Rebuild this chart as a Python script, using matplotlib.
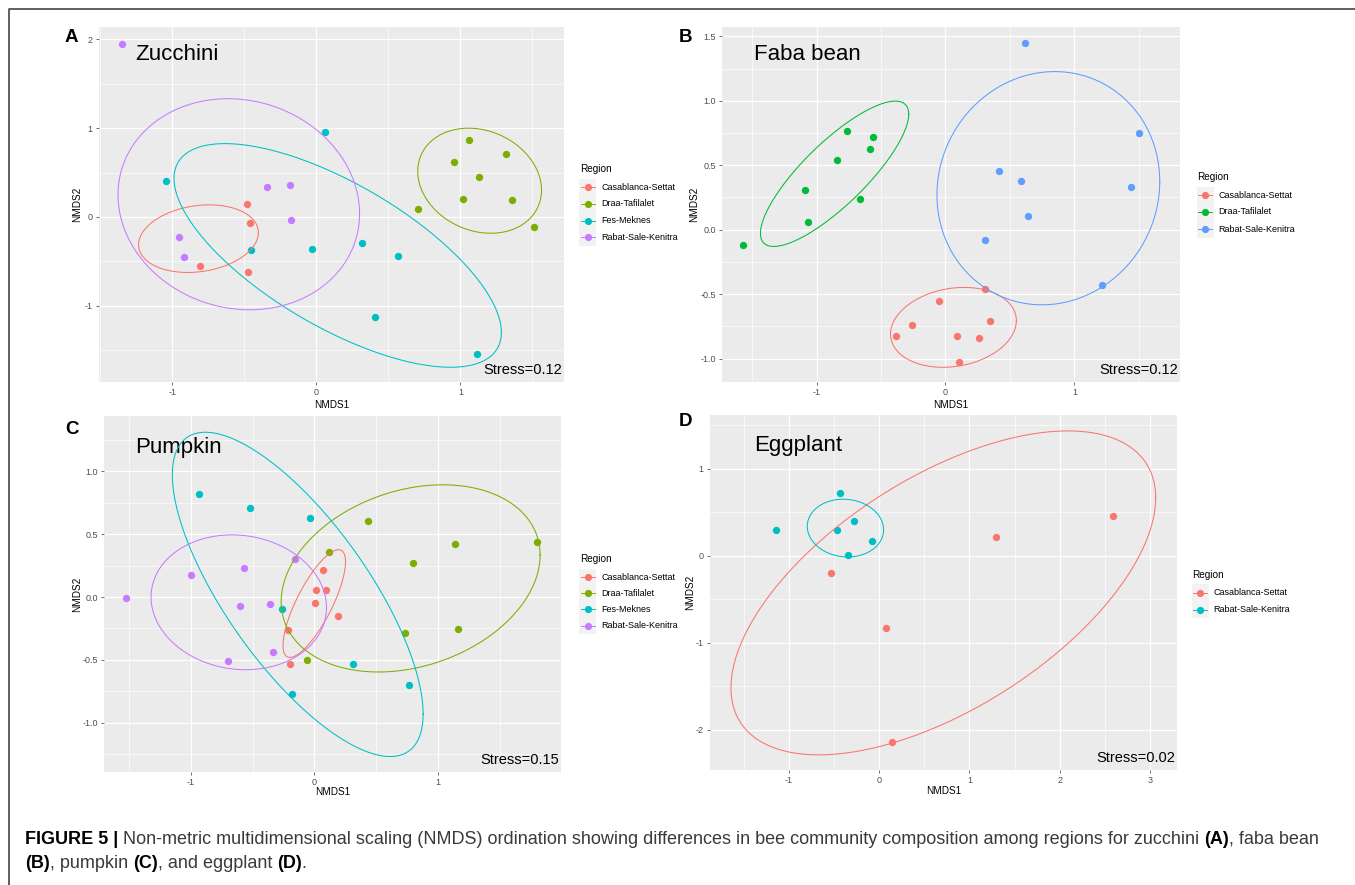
import numpy as np
import matplotlib
matplotlib.use('Agg')
import matplotlib.pyplot as plt
from matplotlib.lines import Line2D
from matplotlib.patches import Rectangle

plt.rcParams['font.family'] = ['Liberation Sans', 'DejaVu Sans']
plt.rcParams['axes.unicode_minus'] = False

FW, FH = 1355, 885

# ---- values ----
reg4 = ['Casablanca-Settat', 'Draa-Tafilalet', 'Fes-Meknes', 'Rabat-Sale-Kenitra']
col4 = ['#F8766D', '#7CAE00', '#00BFC4', '#C77CFF']
reg3 = ['Casablanca-Settat', 'Draa-Tafilalet', 'Rabat-Sale-Kenitra']
col3 = ['#F8766D', '#00BA38', '#619CFF']
reg2 = ['Casablanca-Settat', 'Rabat-Sale-Kenitra']
col2 = ['#F8766D', '#00BFC4']

# zucchini (A)
zuc_x = [[-0.481, -0.462, -0.811, -0.476],
         [1.062, 0.959, 1.315, 1.130, 1.015, 1.362, 0.703, 1.515],
         [-1.043, 0.059, -0.453, -0.028, 0.317, 0.565, 0.406, 1.118],
         [-1.35, -0.957, -0.917, -0.342, -0.183, -0.174]]
zuc_y = [[0.140, -0.072, -0.551, -0.626],
         [0.864, 0.619, 0.709, 0.449, 0.200, 0.189, 0.091, -0.113],
         [0.400, 0.962, -0.374, -0.366, -0.298, -0.438, -1.128, -1.543],
         [1.95, -0.226, -0.453, 0.336, 0.355, -0.030]]
# ellipse: centre x, centre y, half width, half height, y offset at rightmost point
zuc_ell = [(-0.819, -0.245, 0.416, 0.381, 0.068),
           (1.134, 0.408, 0.430, 0.592, -0.106),
           (0.148, -0.434, 1.137, 1.260, -0.868),
           (-0.539, 0.143, 0.839, 1.189, -0.106)]

# faba bean (B)
fab_x = [[0.304, -0.047, -0.259, -0.387, 0.092, 0.257, 0.348, 0.102],
         [-1.571, -1.086, -1.063, -0.840, -0.767, -0.586, -0.560, -0.660],
         [0.620, 1.503, 0.414, 0.589, 1.437, 0.639, 0.309, 1.212]]
fab_y = [[-0.464, -0.555, -0.740, -0.823, -0.823, -0.839, -0.711, -1.026],
         [-0.117, 0.305, 0.057, 0.542, 0.766, 0.625, 0.721, 0.242],
         [1.448, 0.750, 0.458, 0.380, 0.328, 0.109, -0.081, -0.427]]
fab_ell = [(0.062, -0.758, 0.488, 0.310, 0.052),
           (-0.860, 0.434, 0.575, 0.564, 0.462),
           (0.798, 0.322, 0.864, 0.905, 0.052)]

# pumpkin (C)
pum_x = [[0.068, 0.014, 0.096, 0.003, 0.194, -0.211, -0.200],
         [0.432, 0.123, 1.141, 1.806, 0.796, 0.731, 1.163, -0.057],
         [-0.930, -0.517, -0.038, -0.260, 0.315, 0.769, -0.183],
         [-1.527, -1.001, -0.572, -0.602, -0.358, -0.159, -0.334, -0.698]]
pum_y = [[0.217, 0.056, 0.056, -0.048, -0.148, -0.263, -0.532],
         [0.601, 0.354, 0.424, 0.438, 0.268, -0.290, -0.258, -0.502],
         [0.816, 0.706, 0.626, -0.094, -0.532, -0.701, -0.770],
         [-0.008, 0.172, 0.234, -0.075, -0.059, 0.303, -0.435, -0.510]]
pum_ell = [(0.0, -0.052, 0.253, 0.428, 0.332),
           (0.780, 0.148, 1.048, 0.744, 0.185),
           (-0.134, 0.021, 1.015, 1.289, -0.950),
           (-0.611, -0.042, 0.710, 0.536, -0.042)]

# eggplant (D)
egg_x = [[-0.536, 2.588, 1.296, 0.071, 0.146],
         [-0.431, -1.142, -0.468, -0.281, -0.086, -0.345]]
egg_y = [[-0.198, 0.451, 0.210, -0.832, -2.145],
         [0.715, 0.291, 0.299, 0.393, 0.167, 0.008]]
egg_ell = [(0.710, -0.428, 2.354, 1.862, 1.092),
           (-0.375, 0.317, 0.423, 0.332, -0.020)]

fig = plt.figure(figsize=(FW / 100, FH / 100), dpi=100)


def fx(x):
    return x / FW


def fy(y):
    return 1 - y / FH


def panel(box, xs, ys, ells, cols, xlim, ylim, xmaj, xmin, ymaj, ymin, ylabs,
          name, name_pos, stress, letter, letter_pos, xlab_y, ylab_x):
    l, t, r, b = box
    ax = fig.add_axes([fx(l), fy(b), (r - l) / FW, (b - t) / FH])
    ax.set_facecolor('#EBEBEB')
    for s in ax.spines.values():
        s.set_visible(False)
    ax.set_xlim(xlim)
    ax.set_ylim(ylim)
    ax.set_xticks(xmaj)
    ax.set_xticks(xmin, minor=True)
    ax.set_yticks(ymaj)
    ax.set_yticks(ymin, minor=True)
    ax.set_yticklabels(ylabs)
    ax.grid(which='major', color='white', lw=0.9)
    ax.grid(which='minor', color='white', lw=0.45)
    ax.set_axisbelow(True)
    ax.tick_params(which='major', length=2.5, width=0.5, color='#333333',
                   labelsize=6.5, labelcolor='#4D4D4D', pad=2)
    ax.tick_params(which='minor', length=0)
    for x, y, c in zip(xs, ys, cols):
        ax.scatter(x, y, s=28, color=c, zorder=3, linewidths=0)
    tt = np.linspace(0, 2 * np.pi, 300)
    for (cx, cy, w, h, d), c in zip(ells, cols):
        ax.plot(cx + w * np.cos(tt),
                cy + d * np.cos(tt) + np.sqrt(h * h - d * d) * np.sin(tt),
                color=c, lw=0.75, zorder=4)
    ax.text(name_pos[0], name_pos[1], name, transform=ax.transAxes,
            fontsize=16, ha='left', va='baseline')
    ax.text(0.996, 0.013, stress, transform=ax.transAxes, fontsize=10.5,
            ha='right', va='bottom')
    ax.set_xlabel('NMDS1', fontsize=7.2, va='center')
    ax.set_ylabel('NMDS2', fontsize=7.2, va='center')
    ax.xaxis.set_label_coords(0.5, xlab_y)
    ax.yaxis.set_label_coords(ylab_x, 0.5)
    fig.text(fx(letter_pos[0]), fy(letter_pos[1]), letter, fontsize=13.5,
             fontweight='bold', ha='left', va='center')
    return ax


def legend(x_key, y_title, regs, cols, step=16.8):
    fig.text(fx(x_key - 7.5), fy(y_title), 'Region', fontsize=7.2,
             ha='left', va='center')
    rows = [y_title + 17.5 + i * step for i in range(len(regs))]
    fig.add_artist(Rectangle((fx(x_key - 8.5), fy(rows[-1] + step / 2)),
                             17 / FW, (rows[-1] - rows[0] + step) / FH,
                             transform=fig.transFigure, color='#F2F2F2', lw=0))
    for y, lab, c in zip(rows, regs, cols):
        fig.add_artist(Line2D([fx(x_key - 7), fx(x_key + 7)], [fy(y), fy(y)],
                              transform=fig.transFigure, color=c, lw=0.7))
        fig.add_artist(Line2D([fx(x_key)], [fy(y)], transform=fig.transFigure,
                              marker='o', ms=5.2, color=c, mew=0, ls='none'))
        fig.text(fx(x_key + 13.5), fy(y), lab, fontsize=6.5, ha='left',
                 va='center')


int_lab = lambda v: ['%d' % a for a in v]
dec_lab = lambda v: ['%.1f' % a for a in v]

ya = [-1, 0, 1, 2]
panel((99, 27, 564, 382), zuc_x, zuc_y, zuc_ell, col4, (-1.51, 1.72), (-1.86, 2.14),
      [-1, 0, 1], [-1.5, -0.5, 0.5, 1.5], ya, [-1.5, -0.5, 0.5, 1.5], int_lab(ya),
      'Zucchini', (0.078, 0.908), 'Stress=0.12', 'A', (65, 37), -0.065, -0.047)
legend(587.5, 169.5, reg4, col4)

yb = [-1.0, -0.5, 0.0, 0.5, 1.0, 1.5]
panel((722, 27, 1180, 382), fab_x, fab_y, fab_ell, col3, (-1.733, 1.819), (-1.182, 1.573),
      [-1, 0, 1], [-1.5, -0.5, 0.5, 1.5], yb, [-0.75, -0.25, 0.25, 0.75, 1.25],
      dec_lab(yb), 'Faba bean', (0.07, 0.907), 'Stress=0.12', 'B', (679, 37),
      -0.065, -0.061)
legend(1205, 177.5, reg3, col3, step=17)

yc = [-1.0, -0.5, 0.0, 0.5, 1.0]
panel((104, 416, 561, 772), pum_x, pum_y, pum_ell, col4, (-1.702, 1.997), (-1.391, 1.439),
      [-1, 0, 1], [-1.5, -0.5, 0.5, 1.5], yc, [-1.25, -0.75, -0.25, 0.25, 0.75, 1.25],
      dec_lab(yc), 'Pumpkin', (0.069, 0.896), 'Stress=0.15', 'C', (65, 430),
      -0.056, -0.059)
legend(587.5, 559.5, reg4, col4, step=16.2)

yd = [-2, -1, 0, 1]
panel((710, 415, 1177, 770), egg_x, egg_y, egg_ell, col2, (-1.876, 3.300), (-2.464, 1.617),
      [-1, 0, 1, 2, 3], [-1.5, -0.5, 0.5, 1.5, 2.5], yd, [-1.5, -0.5, 0.5, 1.5],
      int_lab(yd), 'Eggplant', (0.094, 0.9), 'Stress=0.02', 'D', (679, 421),
      -0.059, -0.043)
legend(1200, 575, reg2, col2, step=17)

# frame around the figure (open at right and bottom)
fig.add_artist(Line2D([fx(8.5), fx(8.5), fx(FW)], [0, fy(8.5), fy(8.5)],
                      transform=fig.transFigure, color='#444444', lw=1.2))

# caption with mixed bold / regular pieces
renderer = fig.canvas.get_renderer()
line1 = [('FIGURE 5 |', True, 0),
         ('Non-metric multidimensional scaling (NMDS) ordination showing differences '
          'in bee community composition among regions for zucchini', False, 1),
         ('(A)', True, 1), (', faba bean', False, 0)]
line2 = [('(B)', True, 0), (', pumpkin', False, 0), ('(C)', True, 1),
         (', and eggplant', False, 0), ('(D)', True, 1), ('.', False, 0)]


def caption_line(parts, yy, size, keep=True):
    x = 25
    gap = 0.28 * size * 100 / 72
    for s, bold, g in parts:
        x += g * gap
        t = fig.text(fx(x), fy(yy), s, fontsize=size,
                     fontweight='bold' if bold else 'normal',
                     color='black' if bold else '#3A3A3A', ha='left', va='center')
        x += t.get_window_extent(renderer).width
        if not keep:
            t.remove()
    return x


# the printed caption runs from x=25 to about x=1322
w0 = caption_line(line1, 839, 10.0, keep=False) - 25
cap_size = 10.0 * 1297 / w0
caption_line(line1, 839, cap_size)
caption_line(line2, 863, cap_size)

fig.savefig('out.png', dpi=100)
